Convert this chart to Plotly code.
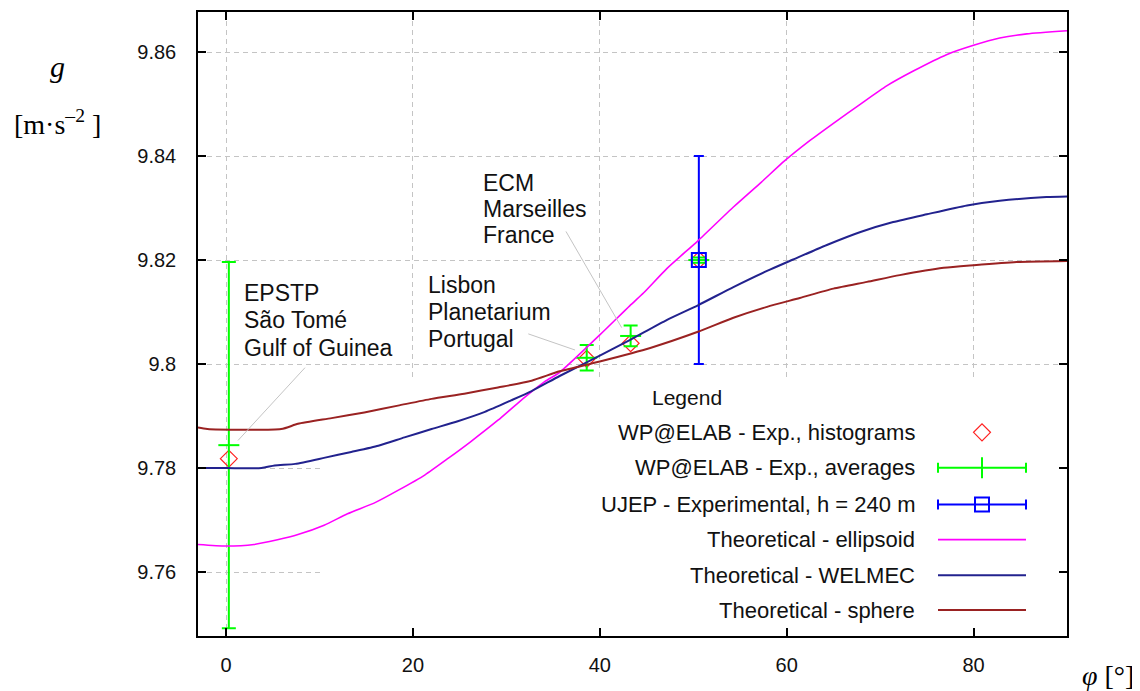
import plotly.graph_objects as go

# ---------------- data ----------------
# Theoretical - ellipsoid
phi_ell = [-3, 0, 3, 5.5, 7.7, 10.5, 13, 16, 18.4, 21.3, 23.8, 26.2, 29.1, 31.3, 34.1, 35.7,
           40, 43.2, 44.7, 47.2, 50.5, 54.3, 57.3, 59.8, 62.5, 65, 67.9, 70.7, 73.6, 77.1,
           80, 82.8, 85.7, 90]
g_ell = [9.7653, 9.7650, 9.7653, 9.7662, 9.7672, 9.7690, 9.7712, 9.7734, 9.7757, 9.7787,
         9.7819, 9.7851, 9.7892, 9.7926, 9.7966, 9.7984, 9.8056, 9.8112, 9.8137, 9.8184,
         9.8237, 9.8302, 9.8350, 9.8391, 9.8430, 9.8463, 9.8500, 9.8535, 9.8564, 9.8595,
         9.8613, 9.8627, 9.8635, 9.8641]

# Theoretical - WELMEC
phi_wel = [-3, 0, 3.8, 5.2, 7.4, 10.6, 13.4, 16.3, 19.1, 22, 24.8, 27.7, 30.5, 32.7, 35.7,
           40, 43.2, 47.2, 50.5, 54.3, 57.9, 60.7, 64.3, 67.9, 71.4, 75, 79.3, 82.8, 87.8, 90]
g_wel = [9.7800, 9.7800, 9.7800, 9.7805, 9.7808, 9.7820, 9.7831, 9.7843, 9.7859, 9.7875,
         9.7890, 9.7908, 9.7930, 9.7948, 9.7977, 9.8016, 9.8046, 9.8085, 9.8113, 9.8148,
         9.8179, 9.8201, 9.8229, 9.8254, 9.8273, 9.8288, 9.8305, 9.8314, 9.8321, 9.8322]

# Theoretical - sphere
phi_sph = [-3, -2, 5.9, 7.7, 11.3, 14.8, 18.4, 22, 25.5, 29.1, 32.7, 35.7, 40, 45.4, 50.5,
           54.3, 57.9, 61.4, 65, 68.6, 72.1, 76.8, 80, 84.6, 90]
g_sph = [9.7878, 9.7875, 9.7875, 9.7885, 9.7896, 9.7907, 9.7920, 9.7933, 9.7943, 9.7955,
         9.7968, 9.7986, 9.8005, 9.8031, 9.8062, 9.8089, 9.8110, 9.8127, 9.8145, 9.8158,
         9.8171, 9.8185, 9.8190, 9.8196, 9.8198]

# WP@ELAB experimental points
site_phi = [0.3, 38.6, 43.3, 50.6]
g_hist = [9.7818, 9.8010, 9.8040, 9.8200]
g_avg = [9.7844, 9.8012, 9.8054, 9.8200]
g_avg_err = [0.0352, 0.00245, 0.0020, 0.0005]

# UJEP experimental point
ujep_phi = [50.6]
ujep_g = [9.8200]
ujep_err = [0.0200]

x_ticks = [0, 20, 40, 60, 80]
y_ticks = [9.76, 9.78, 9.80, 9.82, 9.84, 9.86]
y_tick_text = ["9.76", "9.78", "9.8", "9.82", "9.84", "9.86"]

legend_labels = ["WP@ELAB - Exp., histograms", "WP@ELAB - Exp., averages",
                 "UJEP - Experimental, h = 240 m", "Theoretical - ellipsoid",
                 "Theoretical - WELMEC", "Theoretical - sphere"]

site_labels = [["EPSTP", "São Tomé", "Gulf of Guinea"],
               ["Lisbon", "Planetarium", "Portugal"],
               ["ECM", "Marseilles", "France"]]
site_label_phi = [1.7, 21.4, 27.3]
site_label_g = [[9.8137, 9.8084, 9.8030],
                [9.8152, 9.8100, 9.8049],
                [9.8349, 9.8298, 9.8248]]
# pointer lines (from, to) in data coordinates
pointer_phi0 = [8.45, 32.35, 36.38]
pointer_g0 = [9.7993, 9.8058, 9.8255]
pointer_phi1 = [1.28, 37.35, 42.34]
pointer_g1 = [9.7853, 9.8027, 9.8070]

# ---------------- styles ----------------
C_HIST = "#ff2020"
C_AVG = "#00ff00"
C_UJEP = "#0000ff"
C_ELL = "#ff00ff"
C_WEL = "#22228e"
C_SPH = "#9a2222"
TXT = "#111111"
FONT = "Liberation Sans, Arial, sans-serif"
SERIF = "Liberation Serif, Times New Roman, serif"

fig = go.Figure()

fig.add_trace(go.Scatter(x=site_phi, y=g_hist, mode="markers",
                         marker=dict(symbol="diamond-open", size=13, color=C_HIST,
                                     line=dict(width=1.2, color=C_HIST))))
fig.add_trace(go.Scatter(x=site_phi, y=g_avg, mode="markers",
                         marker=dict(symbol="line-ew", size=15, color=C_AVG,
                                     line=dict(width=2, color=C_AVG)),
                         error_y=dict(type="data", array=g_avg_err, color=C_AVG,
                                      thickness=2, width=7)))
fig.add_trace(go.Scatter(x=ujep_phi, y=ujep_g, mode="markers",
                         marker=dict(symbol="square-open", size=14, color=C_UJEP,
                                     line=dict(width=2, color=C_UJEP)),
                         error_y=dict(type="data", array=ujep_err, color=C_UJEP,
                                      thickness=2, width=5)))
fig.add_trace(go.Scatter(x=phi_ell, y=g_ell, mode="lines",
                         line=dict(color=C_ELL, width=1.6, shape="spline", smoothing=0.6)))
fig.add_trace(go.Scatter(x=phi_wel, y=g_wel, mode="lines",
                         line=dict(color=C_WEL, width=2, shape="spline", smoothing=0.6)))
fig.add_trace(go.Scatter(x=phi_sph, y=g_sph, mode="lines",
                         line=dict(color=C_SPH, width=2, shape="spline", smoothing=0.6)))

# ---------------- legend (drawn in a screen-pixel overlay axis) ----------------
LEG_ROWS = [431.7, 467.3, 504.0, 539.3, 575.0, 610.0]
LEG_TXT_X = 917
LEG_X0, LEG_X1 = 938, 1026
LEG_XC = (LEG_X0 + LEG_X1) / 2
half = (LEG_X1 - LEG_X0) / 2

fig.add_trace(go.Scatter(x=[LEG_XC], y=[LEG_ROWS[0]], xaxis="x2", yaxis="y2", mode="markers",
                         marker=dict(symbol="diamond-open", size=13, color=C_HIST,
                                     line=dict(width=1.2, color=C_HIST))))
fig.add_trace(go.Scatter(x=[LEG_XC], y=[LEG_ROWS[1]], xaxis="x2", yaxis="y2", mode="markers",
                         marker=dict(symbol="line-ns", size=15, color=C_AVG,
                                     line=dict(width=2, color=C_AVG)),
                         error_x=dict(type="data", array=[half], color=C_AVG,
                                      thickness=2, width=5)))
fig.add_trace(go.Scatter(x=[LEG_XC], y=[LEG_ROWS[2]], xaxis="x2", yaxis="y2", mode="markers",
                         marker=dict(symbol="square-open", size=14, color=C_UJEP,
                                     line=dict(width=2, color=C_UJEP)),
                         error_x=dict(type="data", array=[half], color=C_UJEP,
                                      thickness=2, width=5)))
for row, col, w in [(LEG_ROWS[3], C_ELL, 1.6), (LEG_ROWS[4], C_WEL, 2), (LEG_ROWS[5], C_SPH, 2)]:
    fig.add_trace(go.Scatter(x=[LEG_X0, LEG_X1], y=[row, row], xaxis="x2", yaxis="y2",
                             mode="lines", line=dict(color=col, width=w)))

annotations = []
annotations.append(dict(x=686.5, y=396.7, xref="x2", yref="y2", text="Legend",
                        showarrow=False, xanchor="center", yanchor="middle",
                        font=dict(family=FONT, size=21, color=TXT)))
for lab, row in zip(legend_labels, LEG_ROWS):
    annotations.append(dict(x=LEG_TXT_X, y=row, xref="x2", yref="y2", text=lab,
                            showarrow=False, xanchor="right", yanchor="middle",
                            font=dict(family=FONT, size=22, color=TXT)))

for lines, px, gys in zip(site_labels, site_label_phi, site_label_g):
    for txt, gy in zip(lines, gys):
        annotations.append(dict(x=px, y=gy, xref="x", yref="y", text=txt, align="left",
                                showarrow=False, xanchor="left", yanchor="middle",
                                font=dict(family=FONT, size=23, color=TXT)))

# axis titles (paper coordinates)
def px_to_paper(sx, sy):
    return (sx - 198) / 869.0, (636 - sy) / 626.0

gx, gy = px_to_paper(57, 65)
annotations.append(dict(x=gx, y=gy, xref="paper", yref="paper", text="<i>g</i>",
                        showarrow=False, xanchor="center", yanchor="middle",
                        font=dict(family=SERIF, size=30, color="#000")))
ux, uy = px_to_paper(57, 121)
annotations.append(dict(x=ux, y=uy, xref="paper", yref="paper", text="[m·s<sup>–2</sup> ]",
                        showarrow=False, xanchor="center", yanchor="middle",
                        font=dict(family=SERIF, size=28, color="#000")))
fx, fy = px_to_paper(1108, 676)
annotations.append(dict(x=fx, y=fy, xref="paper", yref="paper", text="<i>φ</i> [°]",
                        showarrow=False, xanchor="center", yanchor="middle",
                        font=dict(family=SERIF, size=28, color="#000")))

shapes = []
# white key area masking the grid
shapes.append(dict(type="rect", xref="x", yref="y", x0=10.27, x1=90, y0=9.7477, y1=9.7975,
                   fillcolor="white", line=dict(width=0), layer="between"))
for a, b, c, d in zip(pointer_phi0, pointer_g0, pointer_phi1, pointer_g1):
    shapes.append(dict(type="line", xref="x", yref="y", x0=a, y0=b, x1=c, y1=d,
                       line=dict(color="#c4c4c4", width=1)))

axis_common = dict(showline=True, linecolor="#000", linewidth=1.5, mirror="ticks",
                   ticks="inside", ticklen=8, tickwidth=1.5, tickcolor="#000",
                   showgrid=True, gridcolor="#c4c4c4", gridwidth=1, griddash="5px,4px",
                   zeroline=False, tickfont=dict(family=FONT, size=20, color=TXT))

# page body has an 8px margin: figure is shifted so the plot frame lands at
# 198..1067 x 10..636 in the browser window
fig.update_layout(
    width=1132, height=683,
    margin=dict(l=190, r=73, t=2, b=55),
    plot_bgcolor="white", paper_bgcolor="white",
    showlegend=False,
    xaxis=dict(range=[-3, 90], tickvals=x_ticks, ticklabelstandoff=10, **axis_common),
    yaxis=dict(range=[9.7477, 9.8677], tickvals=y_ticks, ticktext=y_tick_text,
               ticklabelstandoff=16, **axis_common),
    xaxis2=dict(overlaying="x", range=[198, 1067], visible=False, fixedrange=True),
    yaxis2=dict(overlaying="y", range=[636, 10], visible=False, fixedrange=True),
    annotations=annotations,
    shapes=shapes,
)

fig.write_html("out.html")
